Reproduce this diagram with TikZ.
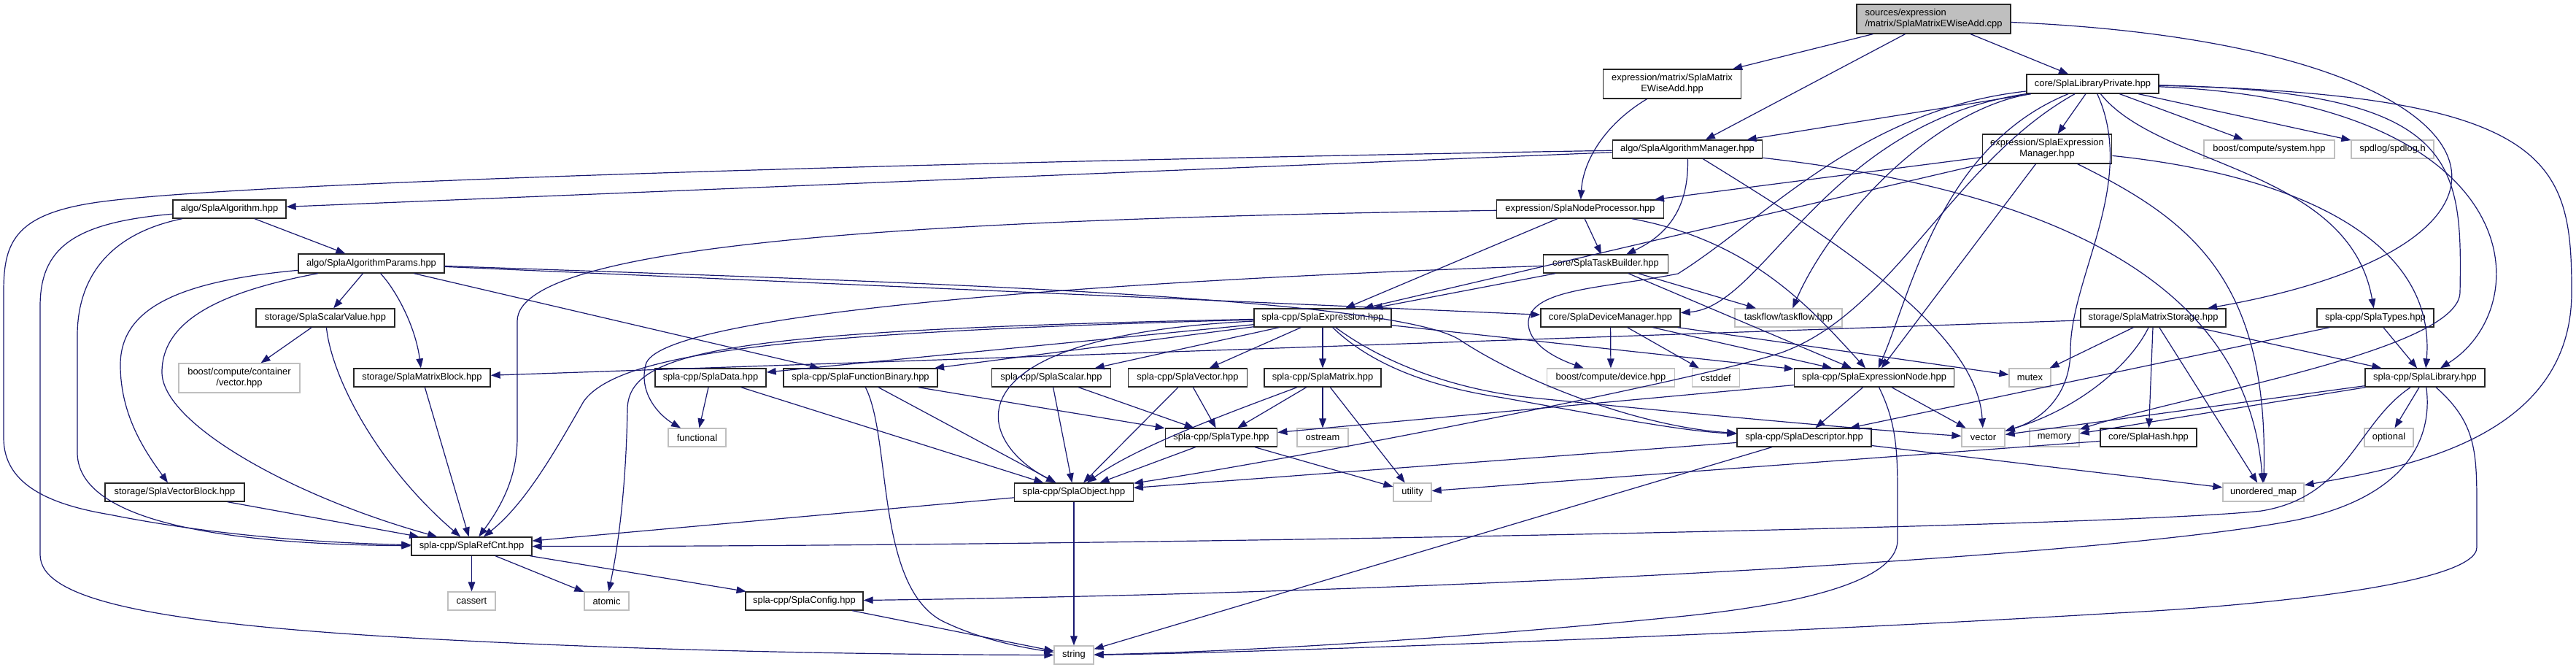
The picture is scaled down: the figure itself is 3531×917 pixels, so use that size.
\documentclass[tikz,border=0pt]{standalone}
\usepackage{fontspec}
\setmainfont{Liberation Sans}
\usetikzlibrary{arrows.meta}
\definecolor{edgec}{HTML}{191970}
\definecolor{greyc}{HTML}{BFBFBF}
\newcommand{\fsz}{\fontsize{6.45}{7.5}\selectfont}
\begin{document}
\begin{tikzpicture}[x=0.5pt,y=-0.5pt,
  nbase/.style={draw, rectangle, inner sep=0pt, minimum height=12.5pt, font=\fsz, line width=0.65pt, text=black},
  nb/.style={nbase, draw=black!85, fill=white},
  gb/.style={nbase, draw=greyc, fill=white},
  rootb/.style={nbase, draw=black!85, fill=greyc, minimum height=20pt, align=left},
  twol/.style={minimum height=20pt, align=center},
  ed/.style={draw=edgec, line width=0.6pt, -{Triangle[length=6.5pt,width=4.8pt]}}]
\fill[white] (0,0) rectangle (3531,917);
\useasboundingbox (0,0) rectangle (3531,917);
% nodes
\node[rootb, minimum width=105.5pt] (root) at (2650.5,26) {sources/expression\\/matrix/SplaMatrixEWiseAdd.cpp};
\node[nb, twol, minimum width=94.25pt] (ewa) at (2292,115) {expression/matrix/SplaMatrix\\EWiseAdd.hpp};
\node[nb, minimum width=90.5pt, minimum height=13pt] (lp) at (2868.5,115) {core/SplaLibraryPrivate.hpp};
\node[nb, minimum width=102.75pt] (am) at (2313,204.5) {algo/SplaAlgorithmManager.hpp};
\node[nb, twol, minimum width=88.75pt] (em) at (2806,204) {expression/SplaExpression\\Manager.hpp};
\node[gb, minimum width=89.5pt] (sys) at (3110.5,204.5) {boost/compute/system.hpp};
\node[gb, minimum width=56.5pt] (spd) at (3279.5,204.5) {spdlog/spdlog.h};
\node[nb, minimum width=77.5pt] (alg) at (314.5,286.5) {algo/SplaAlgorithm.hpp};
\node[nb, minimum width=114.25pt] (np) at (2166,286.5) {expression/SplaNodeProcessor.hpp};
\node[nb, minimum width=100pt, minimum height=13pt] (ap) at (509,361) {algo/SplaAlgorithmParams.hpp};
\node[nb, minimum width=85.25pt] (tb) at (2201,361.5) {core/SplaTaskBuilder.hpp};
\node[nb, minimum width=95pt] (sv) at (446,435.5) {storage/SplaScalarValue.hpp};
\node[nb, minimum width=94pt] (ex) at (1813,435.5) {spla-cpp/SplaExpression.hpp};
\node[nb, minimum width=95.5pt] (dm) at (2207.5,435.5) {core/SplaDeviceManager.hpp};
\node[gb, minimum width=73.5pt] (tf) at (2451.5,435.5) {taskflow/taskflow.hpp};
\node[nb, minimum width=99.5pt] (ms) at (2951.5,435.5) {storage/SplaMatrixStorage.hpp};
\node[nb, minimum width=80pt] (tys) at (3256,435.5) {spla-cpp/SplaTypes.hpp};
\node[gb, twol, minimum width=83pt] (bcv) at (328,518) {boost/compute/container\\/vector.hpp};
\node[nb, minimum width=93.5pt] (mb) at (578.5,517.5) {storage/SplaMatrixBlock.hpp};
\node[nb, minimum width=76pt] (data) at (974,517.5) {spla-cpp/SplaData.hpp};
\node[nb, minimum width=105.5pt] (fb) at (1179.5,517.5) {spla-cpp/SplaFunctionBinary.hpp};
\node[nb, minimum width=81.25pt] (sc) at (1441,517.5) {spla-cpp/SplaScalar.hpp};
\node[nb, minimum width=81.25pt] (vec) at (1628,517.5) {spla-cpp/SplaVector.hpp};
\node[nb, minimum width=80pt] (mat) at (1813,517.5) {spla-cpp/SplaMatrix.hpp};
\node[gb, minimum width=87.5pt] (dev) at (2208,517.5) {boost/compute/device.hpp};
\node[gb, minimum width=32.75pt] (cst) at (2352,517.5) {cstddef};
\node[nb, minimum width=109.5pt] (en) at (2569,517.5) {spla-cpp/SplaExpressionNode.hpp};
\node[gb, minimum width=28.5pt] (mtx) at (2782.5,517.5) {mutex};
\node[nb, minimum width=82pt] (lib) at (3324,517.5) {spla-cpp/SplaLibrary.hpp};
\node[gb, minimum width=39.5pt] (func) at (955.5,599.5) {functional};
\node[nb, minimum width=76.75pt] (type) at (1674,599.5) {spla-cpp/SplaType.hpp};
\node[gb, minimum width=35pt] (ost) at (1813,599.5) {ostream};
\node[nb, minimum width=92pt] (desc) at (2473,599.5) {spla-cpp/SplaDescriptor.hpp};
\node[gb, minimum width=29.5pt] (vect) at (2718.5,599.5) {vector};
\node[gb, minimum width=34pt] (mem) at (2816,599.5) {memory};
\node[nb, minimum width=66pt] (hash) at (2945,599.5) {core/SplaHash.hpp};
\node[gb, minimum width=33.5pt] (opt) at (3274.5,599.5) {optional};
\node[nb, minimum width=95.5pt] (vb) at (239.5,674.5) {storage/SplaVectorBlock.hpp};
\node[nb, minimum width=81.25pt] (obj) at (1472,674.5) {spla-cpp/SplaObject.hpp};
\node[gb, minimum width=26pt] (util) at (1936,674.5) {utility};
\node[gb, minimum width=55.5pt] (umap) at (3102.5,674.5) {unordered\_map};
\node[nb, minimum width=82.5pt] (rc) at (646.5,748.5) {spla-cpp/SplaRefCnt.hpp};
\node[gb, minimum width=32.5pt] (cas) at (646.5,823.5) {cassert};
\node[gb, minimum width=30.5pt] (atom) at (831.5,823.5) {atomic};
\node[nb, minimum width=80.5pt] (cfg) at (1102.5,823.5) {spla-cpp/SplaConfig.hpp};
\node[gb, minimum width=27pt] (str) at (1472,897.5) {string};
% root
\draw[ed] (root) -- (ewa);
\draw[ed] (root) -- (am);
\draw[ed] (root) -- (lp);
\draw[ed] (root) .. controls (3450,60) and (3550,330) .. (ms);
% ewa
\draw[ed] (ewa) .. controls (2200,170) and (2170,220) .. (np);
% lp
\draw[ed] (lp) -- (am);
\draw[ed] (lp) -- (em);
\draw[ed] (lp) -- (sys);
\draw[ed] (lp) -- (spd);
\draw[ed] (lp) .. controls (2960,230) and (3220,230) .. (tys);
\draw[ed] (lp) .. controls (3470,140) and (3480,420) .. (lib);
\draw[ed] (lp) .. controls (3500,130) and (3525,220) .. (3525,400) .. controls (3525,600) and (3300,640) .. (umap);
\draw[ed] (lp) .. controls (3370,125) and (3375,220) .. (3372,400) .. controls (3372,480) and (3000,540) .. (mem);
\draw[ed] (lp) .. controls (2930,250) and (2838,380) .. (2838,480) .. controls (2838,540) and (2800,575) .. (vect);
\draw[ed] (lp) .. controls (2550,150) and (2420,300) .. (2300,375) .. controls (2200,395) and (2100,395) .. (2095,440) .. controls (2093,470) and (2130,490) .. (dev);
\draw[ed] (lp) .. controls (2500,170) and (2420,420) .. (dm);
\draw[ed] (lp) .. controls (2650,150) and (2510,300) .. (tf);
\draw[ed] (lp) .. controls (2660,200) and (2620,400) .. (en);
\draw[ed] (lp) .. controls (2680,220) and (2600,420) .. (2450,480) .. controls (2380,510) and (1800,625) .. (obj);
% em
\draw[ed] (em) -- (np);
\draw[ed] (em) -- (ex);
\draw[ed] (em) -- (en);
\draw[ed] (em) .. controls (3000,300) and (3110,380) .. (umap);
\draw[ed] (em) .. controls (3150,240) and (3340,330) .. (lib);
% am
\draw[ed] (am) -- (alg);
\draw[ed] (am) .. controls (1500,218) and (400,245) .. (150,275) .. controls (20,290) and (5,330) .. (5,400) -- (5,600) .. controls (5,660) and (60,690) .. (150,705) .. controls (300,735) and (450,744) .. (rc);
\draw[ed] (am) .. controls (2315,280) and (2290,320) .. (tb);
\draw[ed] (am) .. controls (2500,320) and (2710,450) .. (vect);
\draw[ed] (am) .. controls (2800,260) and (3080,380) .. (umap);
% alg
\draw[ed] (alg) -- (ap);
\draw[ed] (alg) .. controls (150,320) and (106,380) .. (106,460) -- (106,620) .. controls (106,700) and (250,745) .. (rc);
\draw[ed] (alg) .. controls (100,305) and (55,340) .. (55,420) -- (55,760) .. controls (55,820) and (200,855) .. (600,876) .. controls (900,892) and (1200,897) .. (str);
% ap
\draw[ed] (ap) -- (sv);
\draw[ed] (ap) .. controls (545,400) and (570,450) .. (mb);
\draw[ed] (ap) .. controls (250,385) and (165,420) .. (165,500) .. controls (165,570) and (200,620) .. (vb);
\draw[ed] (ap) .. controls (300,400) and (222,440) .. (222,510) .. controls (222,580) and (400,680) .. (rc);
\draw[ed] (ap) -- (fb);
\draw[ed] (ap) -- (dm);
\draw[ed] (ap) .. controls (1200,385) and (1900,405) .. (2000,465) .. controls (2090,525) and (2250,585) .. (desc);
% sv, mb, vb
\draw[ed] (sv) -- (bcv);
\draw[ed] (sv) .. controls (455,520) and (520,640) .. (rc);
\draw[ed] (mb) -- (rc);
\draw[ed] (vb) -- (rc);
% np
\draw[ed] (np) -- (ex);
\draw[ed] (np) -- (tb);
\draw[ed] (np) .. controls (2400,330) and (2480,420) .. (en);
\draw[ed] (np) .. controls (1300,300) and (709,330) .. (709,440) -- (709,600) .. controls (709,650) and (690,690) .. (rc);
% tb
\draw[ed] (tb) -- (ex);
\draw[ed] (tb) -- (tf);
\draw[ed] (tb) -- (en);
\draw[ed] (tb) .. controls (1500,385) and (900,430) .. (885,500) .. controls (875,540) and (905,570) .. (func);
% ex
\draw[ed] (ex) -- (data);
\draw[ed] (ex) -- (fb);
\draw[ed] (ex) -- (sc);
\draw[ed] (ex) -- (vec);
\draw[ed] (ex) -- (mat);
\draw[ed] (ex) .. controls (1300,460) and (1330,600) .. (obj);
\draw[ed] (ex) .. controls (1100,455) and (850,480) .. (800,550) .. controls (760,620) and (720,690) .. (rc);
\draw[ed] (ex) .. controls (1000,452) and (862,480) .. (860,560) .. controls (858,680) and (845,760) .. (atom);
\draw[ed] (ex) -- (en);
\draw[ed] (ex) .. controls (1900,500) and (2000,535) .. (2100,545) .. controls (2350,570) and (2550,588) .. (vect);
\draw[ed] (ex) .. controls (1880,500) and (1960,530) .. (2060,545) .. controls (2200,570) and (2300,590) .. (desc);
% dm
\draw[ed] (dm) -- (dev);
\draw[ed] (dm) -- (cst);
\draw[ed] (dm) -- (mtx);
\draw[ed] (dm) -- (en);
% ms
\draw[ed] (ms) -- (mb);
\draw[ed] (ms) -- (mtx);
\draw[ed] (ms) -- (hash);
\draw[ed] (ms) .. controls (2920,500) and (2850,560) .. (vect);
\draw[ed] (ms) -- (umap);
\draw[ed] (ms) -- (lib);
% tys
\draw[ed] (tys) -- (lib);
\draw[ed] (tys) -- (desc);
% lib
\draw[ed] (lib) .. controls (3230,580) and (3220,680) .. (3100,700) .. controls (2900,722) and (1500,749) .. (rc);
\draw[ed] (lib) .. controls (3335,600) and (3300,680) .. (3150,712) .. controls (2900,762) and (2000,812) .. (cfg);
\draw[ed] (lib) .. controls (3395,580) and (3395,620) .. (3395,700) -- (3395,750) .. controls (3395,800) and (3100,830) .. (2900,840) .. controls (2400,870) and (1700,895) .. (str);
\draw[ed] (lib) -- (opt);
\draw[ed] (lib) -- (mem);
\draw[ed] (lib) -- (vect);
% hash, desc, en
\draw[ed] (hash) -- (util);
\draw[ed] (desc) -- (obj);
\draw[ed] (desc) -- (str);
\draw[ed] (desc) -- (umap);
\draw[ed] (en) -- (desc);
\draw[ed] (en) -- (vect);
\draw[ed] (en) -- (type);
\draw[ed] (en) .. controls (2600,580) and (2601,620) .. (2601,680) -- (2601,740) .. controls (2601,800) and (2450,830) .. (2300,845) .. controls (2000,875) and (1700,893) .. (str);
% lower
\draw[ed] (fb) -- (type);
\draw[ed] (fb) -- (obj);
\draw[ed] (fb) .. controls (1222,600) and (1200,800) .. (1290,850) .. controls (1350,880) and (1420,890) .. (str);
\draw[ed] (data) -- (func);
\draw[ed] (data) -- (obj);
\draw[ed] (sc) -- (obj);
\draw[ed] (sc) -- (type);
\draw[ed] (vec) -- (obj);
\draw[ed] (vec) -- (type);
\draw[ed] (mat) .. controls (1700,560) and (1560,610) .. (obj);
\draw[ed] (mat) -- (type);
\draw[ed] (mat) -- (ost);
\draw[ed] (mat) -- (util);
\draw[ed] (type) -- (obj);
\draw[ed] (type) -- (util);
\draw[ed] (obj) -- (rc);
\draw[ed] (obj) -- (str);
\draw[ed] (rc) -- (cas);
\draw[ed] (rc) -- (atom);
\draw[ed] (rc) -- (cfg);
\draw[ed] (cfg) -- (str);
\end{tikzpicture}
\end{document}
